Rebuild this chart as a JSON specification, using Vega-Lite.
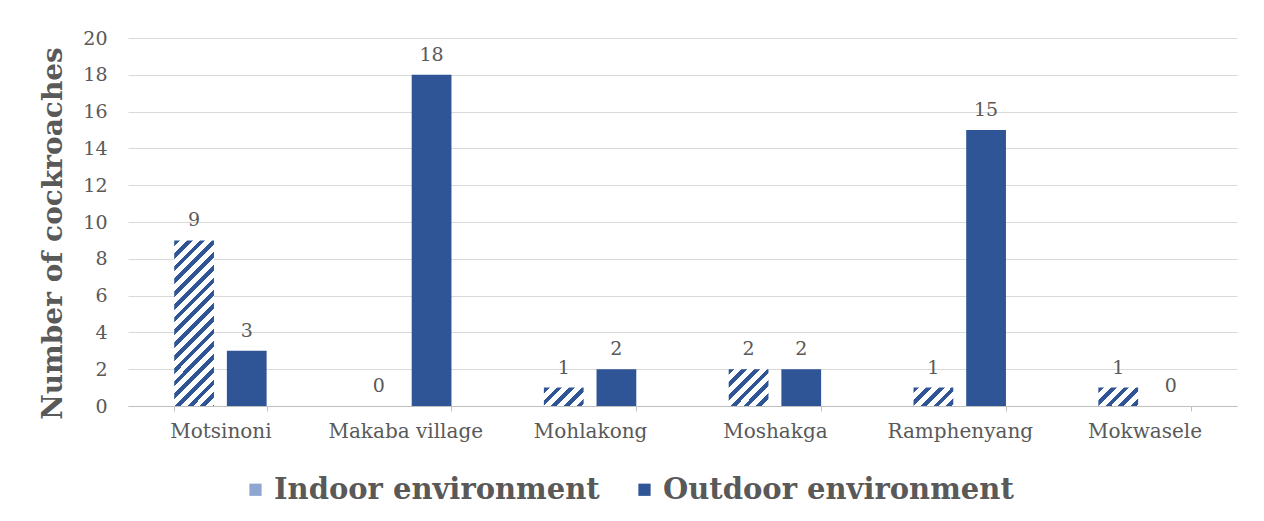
{
  "$schema": "https://vega.github.io/schema/vega-lite/v6.json",
  "width": 1109,
  "height": 368,
  "autosize": {"type": "none"},
  "padding": {"left": 128, "top": 38, "right": 27, "bottom": 115},
  "background": "white",
  "config": {"font": "DejaVu Serif", "view": {"stroke": null}},
  "data": {"values": [
    {"site": "Motsinoni", "environment": "Indoor environment", "count": 9},
    {"site": "Motsinoni", "environment": "Outdoor environment", "count": 3},
    {"site": "Makaba village", "environment": "Indoor environment", "count": 0},
    {"site": "Makaba village", "environment": "Outdoor environment", "count": 18},
    {"site": "Mohlakong", "environment": "Indoor environment", "count": 1},
    {"site": "Mohlakong", "environment": "Outdoor environment", "count": 2},
    {"site": "Moshakga", "environment": "Indoor environment", "count": 2},
    {"site": "Moshakga", "environment": "Outdoor environment", "count": 2},
    {"site": "Ramphenyang", "environment": "Indoor environment", "count": 1},
    {"site": "Ramphenyang", "environment": "Outdoor environment", "count": 15},
    {"site": "Mokwasele", "environment": "Indoor environment", "count": 1},
    {"site": "Mokwasele", "environment": "Outdoor environment", "count": 0}
  ]},
  "layer": [
    {
      "mark": {"type": "bar"},
      "encoding": {
        "x": {"field": "site", "type": "nominal", "sort": null,
          "scale": {"paddingInner": 0.5, "paddingOuter": 0.25},
          "axis": {"title": null, "labelAngle": 0, "labelFontSize": 20, "labelColor": "#595959", "domainColor": "#BFBFBF", "tickBand": "extent", "tickColor": "#BFBFBF", "tickSize": 5, "grid": false, "labelPadding": 10}},
        "xOffset": {"field": "environment", "type": "nominal",
          "scale": {"domain": ["Indoor environment", "Outdoor environment"], "paddingInner": 0.245, "paddingOuter": 0}},
        "y": {"field": "count", "type": "quantitative",
          "scale": {"domain": [0, 20]},
          "axis": {"title": "Number of cockroaches", "titleFontSize": 28, "titleFontWeight": "bold", "titleColor": "#595959", "titlePadding": 15, "titleY": 195, "values": [0, 2, 4, 6, 8, 10, 12, 14, 16, 18, 20], "tickCount": 30, "format": "d", "labelOverlap": false, "labelFontSize": 19, "labelColor": "#595959", "ticks": false, "domain": false, "grid": true, "gridColor": "#D9D9D9", "labelPadding": 21}},
        "color": {
          "field": "environment", "type": "nominal",
          "scale": {"domain": ["Indoor environment", "Outdoor environment"], "range": ["#8fa6d0", "#2F5597"]},
          "legend": {"title": null, "orient": "none", "legendX": 113, "legendY": 437, "direction": "horizontal", "labelFontSize": 29, "labelFontWeight": "bold", "labelColor": "#595959", "symbolType": "square", "symbolSize": 150, "symbolStrokeWidth": 0, "columnPadding": 30, "labelLimit": 600, "labelOffset": 4},
          "condition": [
            {"test": "datum.environment === 'Indoor environment' && datum.count === 9", "value":
              {"gradient": "linear", "x1": 0, "y1": 0, "x2": 0.283, "y2": 1.173, "stops": [
                {"offset": 0, "color": "#2F5597"}, {"offset": 0.028, "color": "#2F5597"}, {"offset": 0.028, "color": "#ffffff"},
                {"offset": 0.0621, "color": "#ffffff"}, {"offset": 0.0621, "color": "#2F5597"}, {"offset": 0.0901, "color": "#2F5597"}, {"offset": 0.0901, "color": "#ffffff"},
                {"offset": 0.1242, "color": "#ffffff"}, {"offset": 0.1242, "color": "#2F5597"}, {"offset": 0.1522, "color": "#2F5597"}, {"offset": 0.1522, "color": "#ffffff"},
                {"offset": 0.1863, "color": "#ffffff"}, {"offset": 0.1863, "color": "#2F5597"}, {"offset": 0.2143, "color": "#2F5597"}, {"offset": 0.2143, "color": "#ffffff"},
                {"offset": 0.2484, "color": "#ffffff"}, {"offset": 0.2484, "color": "#2F5597"}, {"offset": 0.2764, "color": "#2F5597"}, {"offset": 0.2764, "color": "#ffffff"},
                {"offset": 0.3106, "color": "#ffffff"}, {"offset": 0.3106, "color": "#2F5597"}, {"offset": 0.3386, "color": "#2F5597"}, {"offset": 0.3386, "color": "#ffffff"},
                {"offset": 0.3727, "color": "#ffffff"}, {"offset": 0.3727, "color": "#2F5597"}, {"offset": 0.4007, "color": "#2F5597"}, {"offset": 0.4007, "color": "#ffffff"},
                {"offset": 0.4348, "color": "#ffffff"}, {"offset": 0.4348, "color": "#2F5597"}, {"offset": 0.4628, "color": "#2F5597"}, {"offset": 0.4628, "color": "#ffffff"},
                {"offset": 0.4969, "color": "#ffffff"}, {"offset": 0.4969, "color": "#2F5597"}, {"offset": 0.5249, "color": "#2F5597"}, {"offset": 0.5249, "color": "#ffffff"},
                {"offset": 0.559, "color": "#ffffff"}, {"offset": 0.559, "color": "#2F5597"}, {"offset": 0.587, "color": "#2F5597"}, {"offset": 0.587, "color": "#ffffff"},
                {"offset": 0.6211, "color": "#ffffff"}, {"offset": 0.6211, "color": "#2F5597"}, {"offset": 0.6491, "color": "#2F5597"}, {"offset": 0.6491, "color": "#ffffff"},
                {"offset": 0.6832, "color": "#ffffff"}, {"offset": 0.6832, "color": "#2F5597"}, {"offset": 0.7112, "color": "#2F5597"}, {"offset": 0.7112, "color": "#ffffff"},
                {"offset": 0.7453, "color": "#ffffff"}, {"offset": 0.7453, "color": "#2F5597"}, {"offset": 0.7733, "color": "#2F5597"}, {"offset": 0.7733, "color": "#ffffff"},
                {"offset": 0.8075, "color": "#ffffff"}, {"offset": 0.8075, "color": "#2F5597"}, {"offset": 0.8355, "color": "#2F5597"}, {"offset": 0.8355, "color": "#ffffff"},
                {"offset": 0.8696, "color": "#ffffff"}, {"offset": 0.8696, "color": "#2F5597"}, {"offset": 0.8976, "color": "#2F5597"}, {"offset": 0.8976, "color": "#ffffff"},
                {"offset": 0.9317, "color": "#ffffff"}, {"offset": 0.9317, "color": "#2F5597"}, {"offset": 0.9597, "color": "#2F5597"}, {"offset": 0.9597, "color": "#ffffff"},
                {"offset": 0.9938, "color": "#ffffff"}, {"offset": 0.9938, "color": "#2F5597"}, {"offset": 1, "color": "#2F5597"}]}},
            {"test": "datum.environment === 'Indoor environment' && datum.count === 2", "value":
              {"gradient": "linear", "x1": 0, "y1": 0, "x2": 1.04, "y2": 0.957, "stops": [
                {"offset": 0, "color": "#2F5597"}, {"offset": 0.075, "color": "#2F5597"}, {"offset": 0.075, "color": "#ffffff"},
                {"offset": 0.1667, "color": "#ffffff"}, {"offset": 0.1667, "color": "#2F5597"}, {"offset": 0.2417, "color": "#2F5597"}, {"offset": 0.2417, "color": "#ffffff"},
                {"offset": 0.3333, "color": "#ffffff"}, {"offset": 0.3333, "color": "#2F5597"}, {"offset": 0.4083, "color": "#2F5597"}, {"offset": 0.4083, "color": "#ffffff"},
                {"offset": 0.5, "color": "#ffffff"}, {"offset": 0.5, "color": "#2F5597"}, {"offset": 0.575, "color": "#2F5597"}, {"offset": 0.575, "color": "#ffffff"},
                {"offset": 0.6667, "color": "#ffffff"}, {"offset": 0.6667, "color": "#2F5597"}, {"offset": 0.7417, "color": "#2F5597"}, {"offset": 0.7417, "color": "#ffffff"},
                {"offset": 0.8333, "color": "#ffffff"}, {"offset": 0.8333, "color": "#2F5597"}, {"offset": 0.9083, "color": "#2F5597"}, {"offset": 0.9083, "color": "#ffffff"},
                {"offset": 1, "color": "#ffffff"}]}},
            {"test": "datum.environment === 'Indoor environment' && datum.count === 1", "value":
              {"gradient": "linear", "x1": 0, "y1": 0, "x2": 1.205, "y2": 0.554, "stops": [
                {"offset": 0, "color": "#2F5597"}, {"offset": 0.0978, "color": "#2F5597"}, {"offset": 0.0978, "color": "#ffffff"},
                {"offset": 0.2174, "color": "#ffffff"}, {"offset": 0.2174, "color": "#2F5597"}, {"offset": 0.3152, "color": "#2F5597"}, {"offset": 0.3152, "color": "#ffffff"},
                {"offset": 0.4348, "color": "#ffffff"}, {"offset": 0.4348, "color": "#2F5597"}, {"offset": 0.5326, "color": "#2F5597"}, {"offset": 0.5326, "color": "#ffffff"},
                {"offset": 0.6522, "color": "#ffffff"}, {"offset": 0.6522, "color": "#2F5597"}, {"offset": 0.75, "color": "#2F5597"}, {"offset": 0.75, "color": "#ffffff"},
                {"offset": 0.8696, "color": "#ffffff"}, {"offset": 0.8696, "color": "#2F5597"}, {"offset": 0.9674, "color": "#2F5597"}, {"offset": 0.9674, "color": "#ffffff"},
                {"offset": 1, "color": "#ffffff"}]}}
          ]
        }
      }
    },
    {
      "mark": {"type": "text", "baseline": "bottom", "dy": -10, "fontSize": 19, "color": "#595959"},
      "encoding": {
        "x": {"field": "site", "type": "nominal", "sort": null},
        "xOffset": {"field": "environment", "type": "nominal"},
        "y": {"field": "count", "type": "quantitative"},
        "text": {"field": "count", "type": "quantitative"}
      }
    }
  ]
}
